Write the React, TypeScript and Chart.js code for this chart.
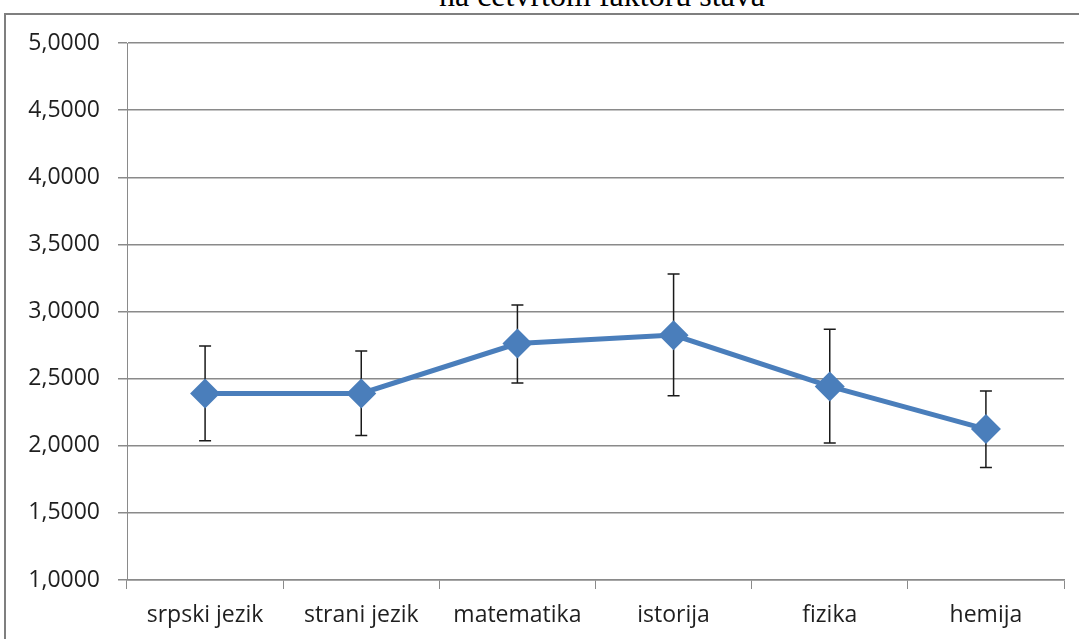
import React, { useEffect, useRef } from "react";
import { Chart, registerables } from "chart.js";

Chart.register(...registerables);

const titleText = "na četvrtom faktoru stava";
const categories = ["srpski jezik", "strani jezik", "matematika", "istorija", "fizika", "hemija"];
const means = [2.39, 2.39, 2.761, 2.824, 2.442, 2.124];
const upper = [2.743, 2.706, 3.048, 3.279, 2.868, 2.408];
const lower = [2.037, 2.077, 2.467, 2.372, 2.02, 1.838];
const yTicks = [1, 1.5, 2, 2.5, 3, 3.5, 4, 4.5, 5];

const LINE_COLOR = "#4a7ebb";
const GRID_COLOR = "#8a8a8a";
const FONT = "'Open Sans', sans-serif";

const errorBarPlugin = {
  id: "errorBars",
  beforeDatasetsDraw(chart: any) {
    const ctx = chart.ctx;
    const xs = chart.scales.x;
    const ys = chart.scales.y;
    ctx.save();
    ctx.strokeStyle = "#1a1a1a";
    ctx.lineWidth = 1.5;
    for (let i = 0; i < categories.length; i++) {
      const x = xs.getPixelForValue(i);
      const yt = ys.getPixelForValue(upper[i]);
      const yb = ys.getPixelForValue(lower[i]);
      const cap = 6;
      ctx.beginPath();
      ctx.moveTo(x, yt);
      ctx.lineTo(x, yb);
      ctx.moveTo(x - cap, yt);
      ctx.lineTo(x + cap, yt);
      ctx.moveTo(x - cap, yb);
      ctx.lineTo(x + cap, yb);
      ctx.stroke();
    }
    ctx.restore();
  },
};

export default function App() {
  const ref = useRef<HTMLCanvasElement | null>(null);

  useEffect(() => {
    if (!ref.current) return;
    const chart = new Chart(ref.current, {
      type: "line",
      data: {
        labels: categories,
        datasets: [
          {
            data: means,
            borderColor: LINE_COLOR,
            backgroundColor: LINE_COLOR,
            borderWidth: 5,
            pointStyle: "rectRot",
            pointRadius: 15,
            pointBorderWidth: 0,
            pointBackgroundColor: LINE_COLOR,
            tension: 0,
          },
        ],
      },
      options: {
        animation: false,
        responsive: false,
        devicePixelRatio: 1,
        layout: { padding: { top: 43, right: 14, left: 0, bottom: 0 } },
        plugins: {
          legend: { display: false },
          title: { display: false },
          tooltip: { enabled: false },
        },
        scales: {
          x: {
            type: "category",
            offset: true,
            grid: {
              offset: true,
              drawOnChartArea: false,
              drawTicks: true,
              tickLength: 9,
              color: GRID_COLOR,
              lineWidth: 1,
            },
            border: { display: true, color: GRID_COLOR, width: 1.5 },
            ticks: {
              color: "#1f1f1f",
              font: { family: FONT, size: 23 },
              padding: 13,
              maxRotation: 0,
              autoSkip: false,
            },
            afterFit: (scale: any) => {
              scale.height = 59;
            },
          },
          y: {
            type: "linear",
            min: 1,
            max: 5,
            afterBuildTicks: (scale: any) => {
              scale.ticks = yTicks.map((v) => ({ value: v }));
            },
            grid: {
              color: GRID_COLOR,
              lineWidth: 1.5,
              drawTicks: true,
              tickLength: 9,
            },
            border: { display: true, color: GRID_COLOR, width: 1 },
            ticks: {
              color: "#1f1f1f",
              font: { family: FONT, size: 23 },
              padding: 18,
              callback: (v: any) => Number(v).toFixed(4).replace(".", ","),
            },
            afterFit: (scale: any) => {
              scale.width = 127;
            },
          },
        },
      },
      plugins: [errorBarPlugin],
    });
    return () => chart.destroy();
  }, []);

  return (
    <div
      style={{
        position: "fixed",
        left: 0,
        top: 0,
        width: 1079,
        height: 639,
        background: "#fff",
        overflow: "hidden",
      }}
    >
      <div
        style={{
          position: "absolute",
          left: 4,
          top: 13,
          width: 1200,
          height: 800,
          borderLeft: "2px solid #7f7f7f",
          borderTop: "2px solid #7f7f7f",
        }}
      />
      <div
        style={{
          position: "absolute",
          left: 0,
          width: 1204,
          top: -23,
          textAlign: "center",
          fontFamily: "'Liberation Serif', 'Times New Roman', serif",
          fontSize: 32,
          lineHeight: "36px",
          color: "#000",
          whiteSpace: "nowrap",
        }}
      >
        {titleText}
      </div>
      <canvas ref={ref} width={1079} height={639} style={{ position: "absolute", left: 0, top: 0 }} />
    </div>
  );
}
